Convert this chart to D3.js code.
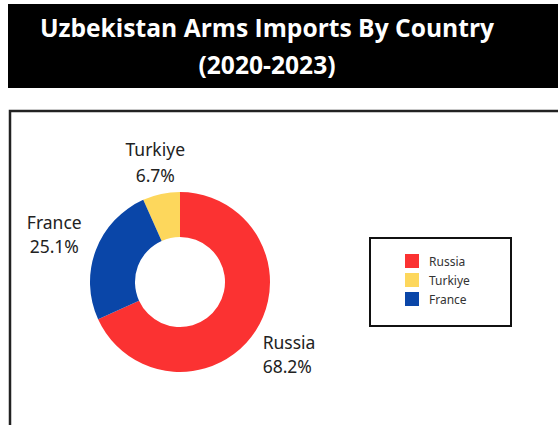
<!DOCTYPE html>
<html>
<head>
<meta charset="utf-8">
<script src="https://cdn.jsdelivr.net/npm/d3@7"></script>
<style>
  html, body { margin: 0; padding: 0; background: #fff; }
  svg { display: block; }
</style>
</head>
<body>
<svg id="chart" width="558" height="425"></svg>
<script>
// Arms import shares, 2020-2023
const countries = ["Russia", "Turkiye", "France"];
const shares = [68.2, 6.7, 25.1];
const colors = ["#fb3232", "#fdd75c", "#0a46a8"];
const titleLines = ["Uzbekistan Arms Imports By Country", "(2020-2023)"];

const svg = d3.select("#chart");
const W = 558, H = 425;

// Title banner
svg.append("rect").attr("x", 8).attr("y", 4).attr("width", W - 8).attr("height", 84).attr("fill", "#000");
svg.selectAll("text.title").data(titleLines).join("text")
  .attr("class", "title")
  .attr("x", 267).attr("y", (d, i) => 37 + i * 37)
  .attr("text-anchor", "middle")
  .attr("fill", "#fff")
  .attr("font-family", "'Open Sans', sans-serif")
  .attr("font-weight", 700)
  .attr("font-size", 24.6)
  .text(d => d);

// Chart frame
svg.append("rect").attr("x", 10).attr("y", 111).attr("width", W).attr("height", H)
  .attr("fill", "#fff").attr("stroke", "#222").attr("stroke-width", 2.5);

const data = countries.map((c, i) => ({ country: c, value: shares[i], color: colors[i] }));
const cx = 180, cy = 282, rOuter = 90, rInner = 45;

const pie = d3.pie().value(d => d.value).sort((a, b) => b.value - a.value);
const arc = d3.arc().innerRadius(rInner).outerRadius(rOuter);
const arcs = pie(data);

const g = svg.append("g").attr("transform", `translate(${cx},${cy})`);
g.selectAll("path").data(arcs).join("path")
  .attr("d", arc)
  .attr("fill", d => d.data.color);

// Outside labels, positioned along each slice's mid-angle
const labelArc = d3.arc().innerRadius(rOuter + 38).outerRadius(rOuter + 38);
const labelStyle = {
  Russia:  { anchor: "start",  dx: -25, dy: -2, gap: 24 },
  Turkiye: { anchor: "middle", dx: 2,   dy: -1, gap: 26 },
  France:  { anchor: "middle", dx: -6,  dy: -8, gap: 24 }
};
const labels = g.selectAll("g.lbl").data(arcs).join("g").attr("class", "lbl")
  .attr("transform", d => {
    const [x, y] = labelArc.centroid(d);
    const s = labelStyle[d.data.country];
    return `translate(${x + s.dx},${y + s.dy})`;
  });
labels.append("text")
  .attr("text-anchor", d => labelStyle[d.data.country].anchor)
  .attr("font-family", "'Noto Sans', sans-serif")
  .attr("font-size", 17.5)
  .attr("fill", "#222")
  .selectAll("tspan")
  .data(d => [d.data.country, d.data.value.toFixed(1) + "%"].map(t => ({ t, gap: labelStyle[d.data.country].gap })))
  .join("tspan")
  .attr("x", 0)
  .attr("dy", (d, i) => i === 0 ? 0 : d.gap)
  .text(d => d.t);

// Legend
const lg = svg.append("g");
lg.append("rect").attr("x", 370).attr("y", 238).attr("width", 141).attr("height", 88)
  .attr("fill", "#fff").attr("stroke", "#111").attr("stroke-width", 2);
const ly = d3.scalePoint().domain(countries).range([261, 299]);
lg.selectAll("rect.sw").data(data).join("rect").attr("class", "sw")
  .attr("x", 405).attr("y", d => ly(d.country) - 7).attr("width", 14).attr("height", 14)
  .attr("fill", d => d.color);
lg.selectAll("text.lt").data(data).join("text").attr("class", "lt")
  .attr("x", 429).attr("y", d => ly(d.country) + 4.5)
  .attr("font-family", "'Noto Sans', sans-serif")
  .attr("font-size", 12)
  .attr("fill", "#333")
  .text(d => d.country);
</script>
</body>
</html>
